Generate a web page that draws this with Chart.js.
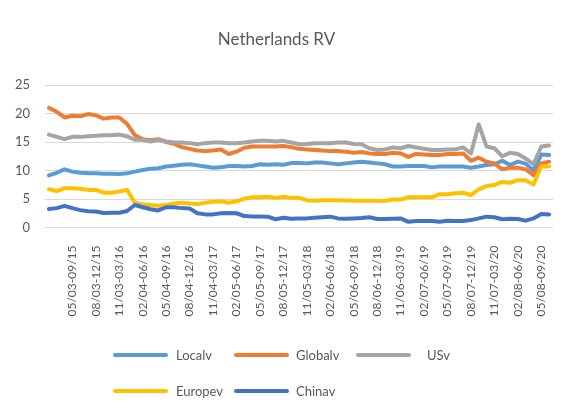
<!DOCTYPE html>
<html>
<head>
<meta charset="utf-8">
<script src="https://cdn.jsdelivr.net/npm/chart.js@4/dist/chart.umd.min.js"></script>
<style>
  html, body { margin: 0; padding: 0; background: #fff; }
  #wrap { position: relative; width: 574px; height: 412px; }
  #chart { position: absolute; left: 0; top: 0; }
  .leg { position: absolute; font: 13px Lato, sans-serif; color: #595959; display: flex; align-items: center; height: 16px; }
  .leg .sw { width: 55px; height: 4px; border-radius: 2px; }
  .leg .tx { margin-left: 8px; }
</style>
</head>
<body>
<div id="wrap">
  <canvas id="chart" width="574" height="412"></canvas>
</div>
<script>
/* ---------- DATA ---------- */
const categories = [
  "02/03-06/15", "03/03-07/15", "04/03-08/15", "05/03-09/15", "06/03-10/15", "07/03-11/15",
  "08/03-12/15", "09/03-01/16", "10/03-02/16", "11/03-03/16", "12/03-04/16",
  "01/04-05/16", "02/04-06/16", "03/04-07/16", "04/04-08/16", "05/04-09/16", "06/04-10/16",
  "07/04-11/16", "08/04-12/16", "09/04-01/17", "10/04-02/17", "11/04-03/17", "12/04-04/17",
  "01/05-05/17", "02/05-06/17", "03/05-07/17", "04/05-08/17", "05/05-09/17", "06/05-10/17",
  "07/05-11/17", "08/05-12/17", "09/05-01/18", "10/05-02/18", "11/05-03/18", "12/05-04/18",
  "01/06-05/18", "02/06-06/18", "03/06-07/18", "04/06-08/18", "05/06-09/18", "06/06-10/18",
  "07/06-11/18", "08/06-12/18", "09/06-01/19", "10/06-02/19", "11/06-03/19", "12/06-04/19",
  "01/07-05/19", "02/07-06/19", "03/07-07/19", "04/07-08/19", "05/07-09/19", "06/07-10/19",
  "07/07-11/19", "08/07-12/19", "09/07-01/20", "10/07-02/20", "11/07-03/20", "12/07-04/20",
  "01/08-05/20", "02/08-06/20", "03/08-07/20", "04/08-08/20", "05/08-09/20", "06/08-10/20"
];

const localv = [
  9.15, 9.6, 10.2, 9.8, 9.6, 9.5, 9.5, 9.45, 9.45, 9.4,
  9.5, 9.8, 10.1, 10.3, 10.4, 10.7, 10.85, 11.0, 11.1, 10.9,
  10.7, 10.5, 10.55, 10.8, 10.8, 10.7, 10.8, 11.1, 11.0, 11.1,
  11.0, 11.3, 11.3, 11.25, 11.4, 11.4, 11.25, 11.1, 11.25, 11.4,
  11.55, 11.4, 11.25, 11.1, 10.7, 10.7, 10.8, 10.8, 10.8, 10.55,
  10.7, 10.7, 10.7, 10.7, 10.5, 10.7, 10.95, 11.1, 11.7, 10.95,
  11.55, 11.2, 10.0, 12.8, 12.7
];

const globalv = [
  21.0, 20.3, 19.3, 19.6, 19.5, 19.9, 19.7, 19.1, 19.3, 19.3,
  18.2, 16.2, 15.5, 15.3, 15.5, 15.0, 14.7, 14.1, 13.8, 13.5,
  13.4, 13.5, 13.7, 12.9, 13.3, 14.0, 14.2, 14.2, 14.2, 14.2,
  14.3, 14.1, 13.8, 13.7, 13.6, 13.5, 13.4, 13.4, 13.3, 13.1,
  13.25, 13.0, 12.9, 12.9, 13.1, 13.0, 12.4, 12.9, 12.8, 12.7,
  12.7, 12.9, 12.9, 13.0, 11.7, 12.25, 11.55, 11.25, 10.2, 10.5,
  10.5, 10.2, 9.2, 11.25, 11.55
];

const usv = [
  16.3, 15.9, 15.5, 15.9, 15.9, 16.0, 16.1, 16.2, 16.2, 16.3,
  16.0, 15.4, 15.4, 15.1, 15.4, 15.1, 14.9, 14.9, 14.8, 14.6,
  14.8, 14.9, 14.9, 14.8, 14.8, 14.9, 15.1, 15.2, 15.2, 15.1,
  15.2, 14.9, 14.6, 14.65, 14.8, 14.8, 14.8, 14.9, 14.9, 14.65,
  14.6, 13.9, 13.6, 13.7, 14.05, 13.9, 14.3, 14.05, 13.8, 13.6,
  13.6, 13.7, 13.7, 14.05, 13.0, 18.1, 14.2, 13.9, 12.5, 13.1,
  12.9, 12.1, 11.1, 14.2, 14.4
];

const europev = [
  6.7, 6.4, 6.9, 6.9, 6.8, 6.6, 6.6, 6.1, 6.1, 6.3,
  6.6, 4.35, 4.05, 3.95, 3.8, 3.95, 4.2, 4.35, 4.2, 4.1,
  4.35, 4.5, 4.6, 4.35, 4.6, 5.05, 5.3, 5.3, 5.4, 5.2,
  5.4, 5.2, 5.2, 4.8, 4.7, 4.8, 4.8, 4.8, 4.75, 4.7,
  4.7, 4.7, 4.65, 4.7, 4.9, 4.9, 5.3, 5.3, 5.3, 5.3,
  5.85, 5.85, 6.0, 6.1, 5.7, 6.7, 7.3, 7.45, 8.0, 7.85,
  8.3, 8.3, 7.55, 10.7, 10.7
];

const chinav = [
  3.25, 3.4, 3.8, 3.4, 3.05, 2.85, 2.8, 2.55, 2.6, 2.6,
  2.9, 3.95, 3.55, 3.2, 3.0, 3.55, 3.55, 3.4, 3.35, 2.5,
  2.3, 2.3, 2.5, 2.55, 2.5, 2.0, 1.95, 1.95, 1.9, 1.45,
  1.7, 1.55, 1.6, 1.6, 1.7, 1.8, 1.9, 1.6, 1.55, 1.6,
  1.65, 1.8, 1.5, 1.5, 1.55, 1.6, 1.0, 1.15, 1.15, 1.15,
  1.0, 1.2, 1.15, 1.15, 1.3, 1.6, 1.9, 1.8, 1.45, 1.55,
  1.5, 1.2, 1.6, 2.35, 2.3
];

const seriesNames = ["Localv", "Globalv", "USv", "Europev", "Chinav"];
const yTicks = [0, 5, 10, 15, 20, 25];

/* ---------- STYLE ---------- */
const colors = ["#5B9BD5", "#ED7D31", "#A5A5A5", "#FFC000", "#4472C4"];
const values = [localv, globalv, usv, europev, chinav];
const textColor = "#595959";
// legend slots (left of swatch, row centre), excel-ish layout
const legendSlots = [
  { x: 113, y: 355, gap: 8 },
  { x: 234, y: 355, gap: 7 },
  { x: 356, y: 355, gap: 16 },
  { x: 113, y: 391, gap: 8 },
  { x: 234, y: 391, gap: 7 }
];

/* ---------- CHART ---------- */
const ctx = document.getElementById("chart").getContext("2d");

const chart = new Chart(ctx, {
  type: "line",
  data: {
    labels: categories,
    datasets: seriesNames.map((name, i) => ({
      label: name,
      data: values[i],
      borderColor: colors[i],
      backgroundColor: colors[i],
      borderWidth: 4,
      pointRadius: 0,
      tension: 0,
      borderJoinStyle: "round",
      borderCapStyle: "round",
      order: seriesNames.length - i
    }))
  },
  options: {
    responsive: false,
    animation: false,
    layout: { padding: { left: 0, right: 21, top: 0, bottom: 0 } },
    plugins: {
      legend: { display: false },
      tooltip: { enabled: false },
      title: {
        display: true,
        text: "Netherlands RV",
        color: textColor,
        font: { family: "Lato", size: 17, weight: "normal", lineHeight: 1.2 },
        padding: { top: 29, bottom: 35.6 }
      }
    },
    scales: {
      x: {
        type: "category",
        offset: true,
        grid: { display: false },
        border: { display: false },
        ticks: {
          autoSkip: false,
          minRotation: 90,
          maxRotation: 90,
          padding: 10,
          color: textColor,
          font: { family: "Lato", size: 12 },
          callback: function (val, index) {
            return (index > 0 && index % 3 === 0) ? this.getLabelForValue(val) : "";
          }
        },
        afterFit: scale => { scale.height = 184.5; }
      },
      y: {
        min: yTicks[0],
        max: yTicks[yTicks.length - 1],
        grid: { color: "#D9D9D9", lineWidth: 1, drawTicks: false },
        border: { display: false },
        afterBuildTicks: scale => { scale.ticks = yTicks.map(v => ({ value: v })); },
        ticks: {
          padding: 15,
          color: textColor,
          font: { family: "Lato", size: 13 }
        },
        afterFit: scale => { scale.width = 45; }
      }
    }
  }
});

/* ---------- LEGEND ---------- */
const wrap = document.getElementById("wrap");
chart.data.datasets.forEach((ds, i) => {
  const slot = legendSlots[i];
  const item = document.createElement("div");
  item.className = "leg";
  item.style.left = slot.x + "px";
  item.style.top = (slot.y - 8) + "px";
  item.innerHTML = '<div class="sw" style="background:' + ds.borderColor + '"></div>' +
    '<span class="tx" style="margin-left:' + slot.gap + 'px">' + ds.label + '</span>';
  wrap.appendChild(item);
});
</script>
</body>
</html>
